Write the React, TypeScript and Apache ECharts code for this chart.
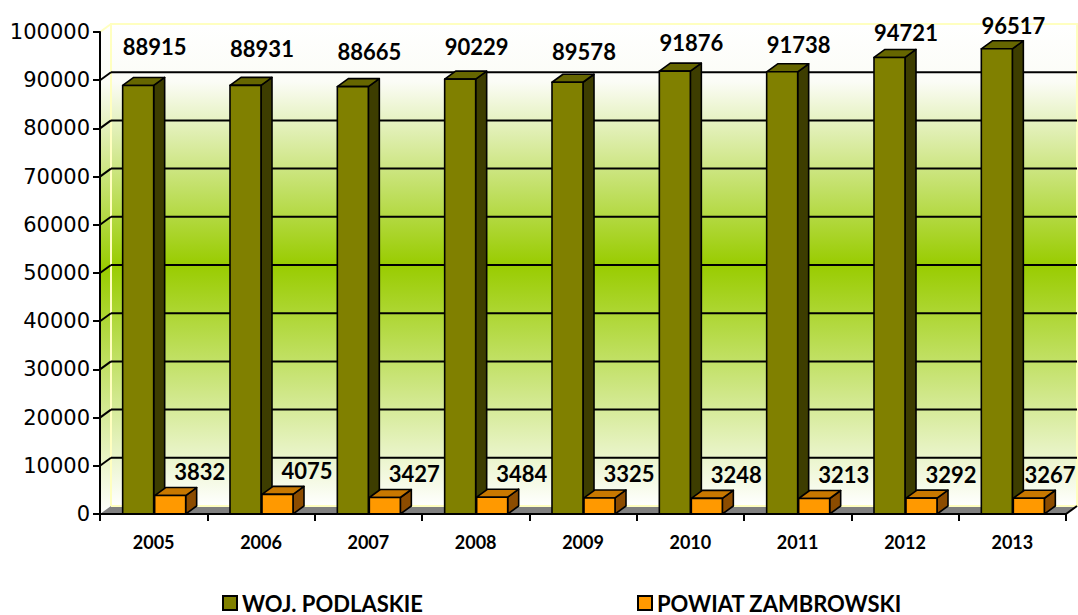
import React, { useEffect, useRef } from "react";
import * as echarts from "echarts";

const years = ["2005", "2006", "2007", "2008", "2009", "2010", "2011", "2012", "2013"];
const podlaskie = [88915, 88931, 88665, 90229, 89578, 91876, 91738, 94721, 96517];
const zambrowski = [3832, 4075, 3427, 3484, 3325, 3248, 3213, 3292, 3267];
const yTicks = [0, 10000, 20000, 30000, 40000, 50000, 60000, 70000, 80000, 90000, 100000];
const seriesNames = ["WOJ. PODLASKIE", "POWIAT ZAMBROWSKI"];

const DX = 11;
const DY = 8;
const BAR_W = 31;

const wallGradient = () =>
  new echarts.graphic.LinearGradient(0, 0, 0, 1, [
    { offset: 0, color: "#ffffff" },
    { offset: 0.12, color: "#fbfcf6" },
    { offset: 0.5, color: "#99cc00" },
    { offset: 1, color: "#ffffff" },
  ]);

function barRender(opts: {
  start: number;
  front: string;
  side: string;
  top: string;
  labelDx: number;
  labelDy: number;
  labelStep: number;
}) {
  return (params: any, api: any) => {
    const idx = api.value(0);
    const v = api.value(1);
    const [cx, y] = api.coord([idx, v]);
    const [, y0] = api.coord([idx, 0]);
    const x0 = cx + opts.start;
    const x1 = x0 + BAR_W;
    const stroke = { stroke: "#000", lineWidth: 1.6, lineJoin: "round" };
    const lx = Math.min(cx + opts.labelDx, api.getWidth() - 28);
    return {
      type: "group",
      children: [
        {
          type: "polygon",
          shape: { points: [[x1, y0], [x1, y], [x1 + DX, y - DY], [x1 + DX, y0 - DY]] },
          style: { fill: opts.side, ...stroke },
        },
        {
          type: "polygon",
          shape: { points: [[x0, y], [x1, y], [x1 + DX, y - DY], [x0 + DX, y - DY]] },
          style: { fill: opts.top, ...stroke },
        },
        {
          type: "rect",
          shape: { x: x0, y: y, width: BAR_W, height: y0 - y },
          style: { fill: opts.front, ...stroke },
        },
        {
          type: "text",
          x: lx,
          y: y + opts.labelDy + opts.labelStep * idx,
          style: {
            text: String(v),
            fontSize: 22,
            fontWeight: "bold",
            fontFamily: "Lato",
            fill: "#000",
            align: "center",
            verticalAlign: "middle",
          },
        },
      ],
    };
  };
}

export default function App() {
  const ref = useRef<HTMLDivElement>(null);
  useEffect(() => {
    document.body.style.margin = "0";
    const chart = echarts.init(ref.current!, null, { renderer: "svg" });
    const legendText = {
      fontSize: 22,
      lineHeight: 22,
      fontWeight: "bold",
      fontFamily: "Lato",
      color: "#000",
    };
    const option: any = {
      animation: false,
      backgroundColor: "#ffffff",
      grid: { left: 100, top: 32, width: 966, height: 482 },
      xAxis: {
        type: "category",
        data: years,
        axisLine: { show: true, lineStyle: { color: "#000", width: 2 } },
        axisTick: { show: true, length: 7, lineStyle: { color: "#000", width: 2 } },
        axisLabel: {
          margin: 19,
          fontSize: 18,
          fontWeight: "bold",
          fontFamily: "Lato",
          color: "#000",
        },
        splitLine: { show: false },
        z: 5,
      },
      yAxis: {
        type: "value",
        min: 0,
        max: 100000,
        interval: 10000,
        axisLine: { show: true, lineStyle: { color: "#000", width: 2 } },
        axisTick: { show: true, length: 7, lineStyle: { color: "#000", width: 2 } },
        axisLabel: {
          margin: 10,
          fontSize: 21,
          fontWeight: "normal",
          fontFamily: "DejaVu Sans",
          color: "#000",
          formatter: (v: number) => String(v),
        },
        splitLine: { show: false },
        z: 5,
      },
      legend: [
        {
          data: [seriesNames[0]],
          left: 222,
          top: 592,
          padding: 0,
          icon: "rect",
          itemWidth: 14,
          itemHeight: 14,
          textStyle: legendText,
        },
        {
          data: [seriesNames[1]],
          left: 637,
          top: 592,
          padding: 0,
          icon: "rect",
          itemWidth: 14,
          itemHeight: 14,
          textStyle: legendText,
        },
      ],
      series: [
        {
          type: "custom",
          name: "walls",
          silent: true,
          z: 0,
          data: [[0, 0]],
          renderItem: (params: any, api: any) => {
            const cs = params.coordSys;
            const L = cs.x;
            const T = cs.y;
            const R = cs.x + cs.width;
            const B = cs.y + cs.height;
            const children: any[] = [];
            children.push({
              type: "polygon",
              shape: { points: [[L, B], [L + DX, B - DY], [L + DX, T - DY], [L, T]] },
              style: { fill: wallGradient() },
            });
            children.push({
              type: "rect",
              shape: { x: L + DX, y: T - DY, width: R - L, height: B - T },
              style: { fill: wallGradient() },
            });
            children.push({
              type: "polygon",
              shape: { points: [[L, B], [R, B], [R + DX, B - DY], [L + DX, B - DY]] },
              style: { fill: "#808080" },
            });
            children.push({
              type: "polyline",
              shape: { points: [[L + DX, B - DY], [L + DX, T - DY], [R + DX, T - DY], [R + DX, B - DY], [L + DX, B - DY]] },
              style: { stroke: "#ffffc0", lineWidth: 2, fill: "none" },
            });
            children.push({
              type: "line",
              shape: { x1: L, y1: T, x2: L + DX, y2: T - DY },
              style: { stroke: "#ffffc0", lineWidth: 2 },
            });
            yTicks.forEach((t) => {
              if (t === 0 || t === 100000) return;
              const y = api.coord([0, t])[1];
              children.push({
                type: "line",
                shape: { x1: L + DX, y1: y - DY, x2: R + DX, y2: y - DY },
                style: { stroke: "#000", lineWidth: 2 },
              });
              children.push({
                type: "line",
                shape: { x1: L, y1: y, x2: L + DX, y2: y - DY },
                style: { stroke: "#000", lineWidth: 2 },
              });
            });
            children.push({
              type: "line",
              shape: { x1: R, y1: B, x2: R + DX, y2: B - DY },
              style: { stroke: "#000", lineWidth: 2 },
            });
            return { type: "group", children };
          },
        },
        {
          type: "custom",
          name: seriesNames[0],
          z: 2,
          itemStyle: { color: "#808000", borderColor: "#000", borderWidth: 1.5 },
          data: podlaskie.map((v, i) => [i, v]),
          renderItem: barRender({
            start: -BAR_W,
            front: "#808000",
            side: "#3d3d00",
            top: "#666600",
            labelDx: 1,
            labelDy: -39,
            labelStep: 2,
          }),
        },
        {
          type: "custom",
          name: seriesNames[1],
          z: 3,
          itemStyle: { color: "#ff9900", borderColor: "#000", borderWidth: 1.5 },
          data: zambrowski.map((v, i) => [i, v]),
          renderItem: barRender({
            start: 1,
            front: "#ff9900",
            side: "#8c4c00",
            top: "#c87800",
            labelDx: 46,
            labelDy: -24,
            labelStep: 0,
          }),
        },
      ],
    };
    chart.setOption(option);
    return () => chart.dispose();
  }, []);
  return <div ref={ref} style={{ width: 1078, height: 615 }} />;
}
